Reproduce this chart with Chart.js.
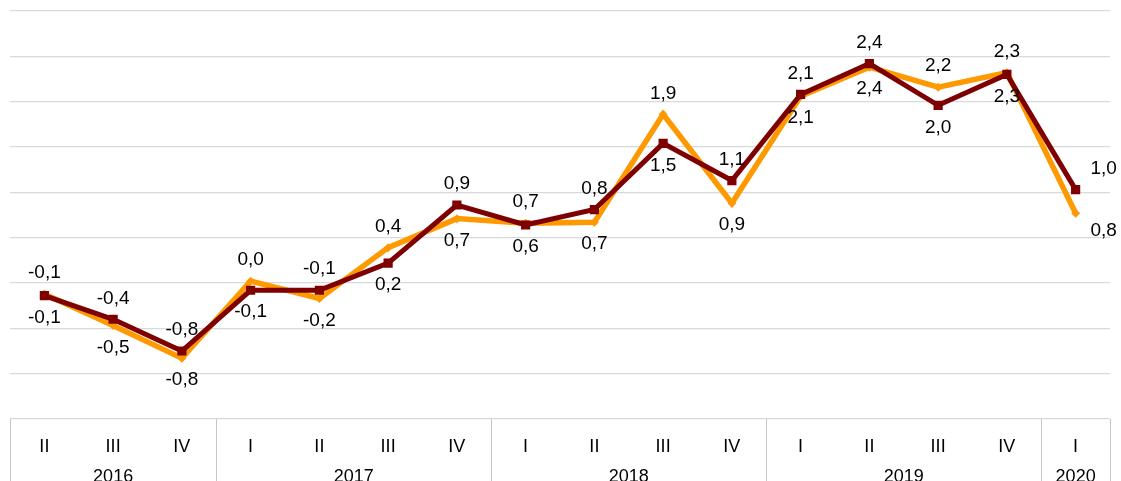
<!DOCTYPE html>
<html>
<head>
<meta charset="utf-8">
<script src="https://cdn.jsdelivr.net/npm/chart.js@4.4.1/dist/chart.umd.min.js"></script>
<style>
	body { margin: 0; background: #ffffff; }
</style>
</head>
<body>
<canvas id="grafic" width="1121" height="481"></canvas>
<script>
// Dades del gràfic
let trimestres = ['II', 'III', 'IV', 'I', 'II', 'III', 'IV', 'I', 'II', 'III', 'IV', 'I', 'II', 'III', 'IV', 'I'];
let anys = ['2016', '2017', '2018', '2019', '2020'];
let trimestresPerAny = [3, 4, 4, 4, 1];

// Sèrie taronja
let serieTaronja = [-0.12, -0.47, -0.83, 0.02, -0.17, 0.39, 0.71, 0.66, 0.67, 1.86, 0.88, 2.06, 2.38, 2.16, 2.32, 0.77];
// Sèrie granat
let serieGranat = [-0.14, -0.40, -0.75, -0.08, -0.08, 0.22, 0.86, 0.64, 0.81, 1.54, 1.13, 2.08, 2.42, 1.96, 2.30, 1.03];

// Eix vertical
let minY = -1.5, maxY = 3.0, pasY = 0.5;

const font = '"Liberation Sans", Arial, sans-serif';

function format(valor) {
	return valor.toFixed(1).replace('.', ',');
}

// Plugin per dibuixar les etiquetes dels valors
const etiquetes = {
	id: 'etiquetes',
	afterDatasetsDraw(chart) {
		let ctx = chart.ctx;
		let metaGranat = chart.getDatasetMeta(0);
		let metaTaronja = chart.getDatasetMeta(1);
		ctx.save();
		ctx.font = '19px ' + font;
		ctx.fillStyle = '#000000';
		ctx.textAlign = 'center';
		ctx.textBaseline = 'middle';
		for (let i = 0; i < trimestres.length; i++) {
			let g = serieGranat[i], t = serieTaronja[i];
			let puntG = metaGranat.data[i], puntT = metaTaronja.data[i];
			let ultim = (i == trimestres.length - 1);
			let dx = ultim ? 28 : 0;
			// el valor més alt va a sobre i el més baix a sota
			let dalt, baix;
			if (g >= t) {
				dalt = [g, puntG]; baix = [t, puntT];
			} else {
				dalt = [t, puntT]; baix = [g, puntG];
			}
			ctx.fillText(format(dalt[0]), dalt[1].x + dx, dalt[1].y - 21);
			ctx.fillText(format(baix[0]), baix[1].x + dx, baix[1].y + (ultim ? 18 : 22));
		}
		ctx.restore();
	}
};

// Plugin per dibuixar els anys i les separacions de l'eix X
const eixAnys = {
	id: 'eixAnys',
	afterDraw(chart) {
		let ctx = chart.ctx;
		let x = chart.scales.x;
		let area = chart.chartArea;
		let baix = chart.height;
		ctx.save();
		ctx.strokeStyle = '#c6c6c6';
		ctx.lineWidth = 1;
		ctx.font = '18px ' + font;
		ctx.fillStyle = '#000000';
		ctx.textAlign = 'center';
		ctx.textBaseline = 'alphabetic';

		let inici = 0;
		let limits = [area.left];
		for (let a = 0; a < anys.length; a++) {
			let fi = inici + trimestresPerAny[a] - 1;
			let centre = (x.getPixelForValue(inici) + x.getPixelForValue(fi)) / 2;
			ctx.fillText(anys[a], centre, 482);
			if (fi + 1 < trimestres.length) {
				limits.push((x.getPixelForValue(fi) + x.getPixelForValue(fi + 1)) / 2);
			} else {
				limits.push(area.right);
			}
			inici = fi + 1;
		}
		limits.forEach(lx => {
			let px = Math.round(lx) + 0.5;
			ctx.beginPath();
			ctx.moveTo(px, area.bottom);
			ctx.lineTo(px, baix);
			ctx.stroke();
		});
		ctx.restore();
	}
};

const data = {
	labels: trimestres,
	datasets: [
		{
			label: 'Granat',
			data: serieGranat,
			borderColor: '#7f0000',
			backgroundColor: '#7f0000',
			borderWidth: 5,
			pointStyle: 'rect',
			pointRadius: 6.5,
			pointBorderWidth: 0,
			tension: 0
		},
		{
			label: 'Taronja',
			data: serieTaronja,
			borderColor: '#ff9900',
			backgroundColor: '#ff9900',
			borderWidth: 5.5,
			pointStyle: 'rectRot',
			pointRadius: 4.5,
			pointBorderWidth: 0,
			tension: 0
		}
	]
};

const config = {
	type: 'line',
	data: data,
	options: {
		responsive: false,
		animation: false,
		devicePixelRatio: 1,
		layout: { padding: { left: 10, right: 11, top: 11, bottom: 0 } },
		plugins: {
			legend: { display: false },
			tooltip: { enabled: false }
		},
		scales: {
			x: {
				offset: true,
				grid: { display: false },
				border: { display: false },
				ticks: {
					color: '#000000',
					font: { family: font, size: 18 },
					padding: 9,
					maxRotation: 0,
					autoSkip: false
				},
				afterFit: function (scale) { scale.height = 62; }
			},
			y: {
				min: minY,
				max: maxY,
				ticks: { display: false, stepSize: pasY },
				grid: { color: '#d9d9d9', lineWidth: 1.3, drawTicks: false },
				border: { display: false },
				afterFit: function (scale) { scale.width = 0; }
			}
		}
	},
	plugins: [etiquetes, eixAnys]
};

let myChart = new Chart(document.getElementById('grafic'), config);
</script>
</body>
</html>
